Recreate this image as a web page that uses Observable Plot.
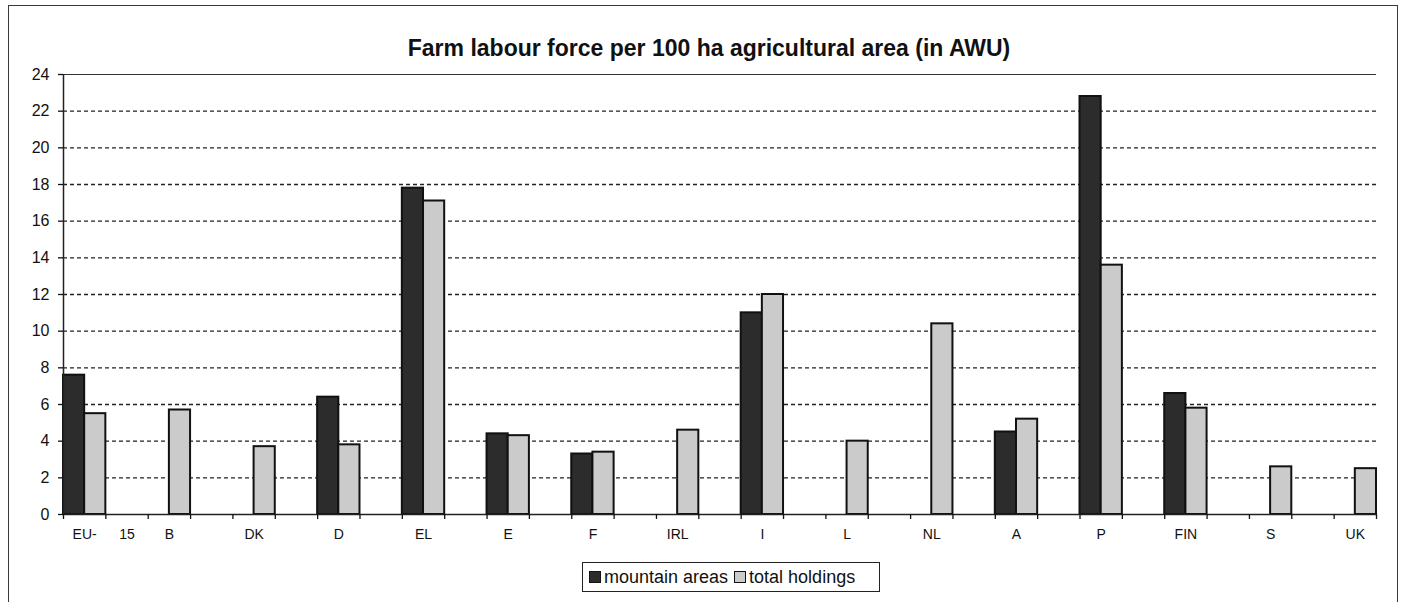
<!DOCTYPE html>
<html>
<head>
<meta charset="utf-8">
<script src="https://cdn.jsdelivr.net/npm/d3@7"></script>
<script src="https://cdn.jsdelivr.net/npm/@observablehq/plot@0.6"></script>
<style>
  html, body { margin: 0; padding: 0; background: #fff; }
  #wrap { position: relative; width: 1404px; height: 602px; overflow: hidden; font-family: "Liberation Sans", Arial, sans-serif; }
  #frame { position: absolute; left: 8px; top: 5px; width: 1390px; height: 610px; border: 1.5px solid #3a3a3a; box-sizing: border-box; }
  #title { position: absolute; left: 0; width: 1418px; top: 35px; text-align: center; font-weight: bold; font-size: 23px; color: #111; }
  #legend { position: absolute; left: 582px; top: 562px; width: 298px; height: 30px; border: 1.5px solid #222; box-sizing: border-box; display: flex; align-items: center; padding-left: 6px; font-size: 18px; color: #111; white-space: nowrap; }
  .sw { display: inline-block; width: 10px; height: 10px; border: 1.5px solid #111; margin-right: 3px; }
  #chart { position: absolute; left: 0; top: 0; }
</style>
</head>
<body>
<div id="wrap">
  <div id="frame"></div>
  <div id="chart"></div>
  <div id="title"></div>
  <div id="legend"></div>
</div>
<script>
// ---- data ----
const title = "Farm labour force per 100 ha agricultural area (in AWU)";
const countries = ["EU-15", "B", "DK", "D", "EL", "E", "F", "IRL", "I", "L", "NL", "A", "P", "FIN", "S", "UK"];
const mountainAreas = [7.6, null, null, 6.4, 17.8, 4.4, 3.3, null, 11.0, null, null, 4.5, 22.8, 6.6, null, null];
const totalHoldings = [5.5, 5.7, 3.7, 3.8, 17.1, 4.3, 3.4, 4.6, 12.0, 4.0, 10.4, 5.2, 13.6, 5.8, 2.6, 2.5];
const seriesNames = ["mountain areas", "total holdings"];
const seriesColors = ["#2c2c2c", "#cbcbcb"];
const yTicks = [0, 2, 4, 6, 8, 10, 12, 14, 16, 18, 20, 22, 24];

// ---- build table ----
const rows = [];
countries.forEach((c, i) => {
  if (mountainAreas[i] != null) rows.push({country: c, i, series: seriesNames[0], k: 0, value: mountainAreas[i]});
  if (totalHoldings[i] != null) rows.push({country: c, i, series: seriesNames[1], k: 1, value: totalHoldings[i]});
});
// each country occupies two category slots (bars + empty slot); label under the bar pair
const nSlots = countries.length * 2 - 1;
const labelItems = [];
countries.forEach((c, i) => {
  const parts = c.split("-");
  if (parts.length > 1) {
    labelItems.push({pos: 2 * i + 0.5, text: parts[0] + "-"});
    labelItems.push({pos: 2 * i + 1.5, text: parts[1]});
  } else {
    labelItems.push({pos: 2 * i + 0.5, text: c});
  }
});
const labelMap = new Map(labelItems.map(d => [d.pos, d.text]));

const chart = Plot.plot({
  width: 1404,
  height: 602,
  marginLeft: 63,
  marginRight: 28,
  marginTop: 74,
  marginBottom: 88,
  style: {fontFamily: "'Liberation Sans', Arial, sans-serif", background: "transparent", color: "#111"},
  x: {domain: [0, nSlots], axis: null, label: null},
  y: {domain: [0, 24], axis: null, label: null},
  marks: [
    Plot.ruleY(yTicks.filter(t => t > 0 && t < 24), {stroke: "#222", strokeWidth: 1.4, strokeDasharray: "4,3"}),
    Plot.ruleY([24], {stroke: "#333", strokeWidth: 1.2}),
    Plot.rectY(rows, {
      x1: d => 2 * d.i + d.k * 0.5,
      x2: d => 2 * d.i + d.k * 0.5 + 0.5,
      y: "value",
      fill: d => seriesColors[d.k],
      stroke: "#111",
      strokeWidth: 2
    }),
    Plot.ruleY([0], {stroke: "#222", strokeWidth: 1.5}),
    Plot.ruleX([0], {stroke: "#222", strokeWidth: 1.5}),
    Plot.axisY({ticks: yTicks, tickSize: 5, tickPadding: 9, fontSize: 16, tickFormat: d => d, strokeWidth: 1.3, label: null}),
    Plot.axisX({ticks: d3.range(0, nSlots + 1), tickSize: 5, tickFormat: () => "", strokeWidth: 1.3, label: null}),
    Plot.axisX({ticks: labelItems.map(d => d.pos), tickSize: 0, tickPadding: 15, fontSize: 14, tickFormat: d => labelMap.get(d), label: null})
  ]
});
document.getElementById("chart").appendChild(chart);
document.getElementById("title").textContent = title;

const legend = document.getElementById("legend");
seriesNames.forEach((name, k) => {
  const sw = document.createElement("span");
  sw.className = "sw";
  sw.style.background = seriesColors[k];
  legend.appendChild(sw);
  const t = document.createElement("span");
  t.textContent = name;
  t.style.marginRight = "6px";
  legend.appendChild(t);
});
</script>
</body>
</html>
